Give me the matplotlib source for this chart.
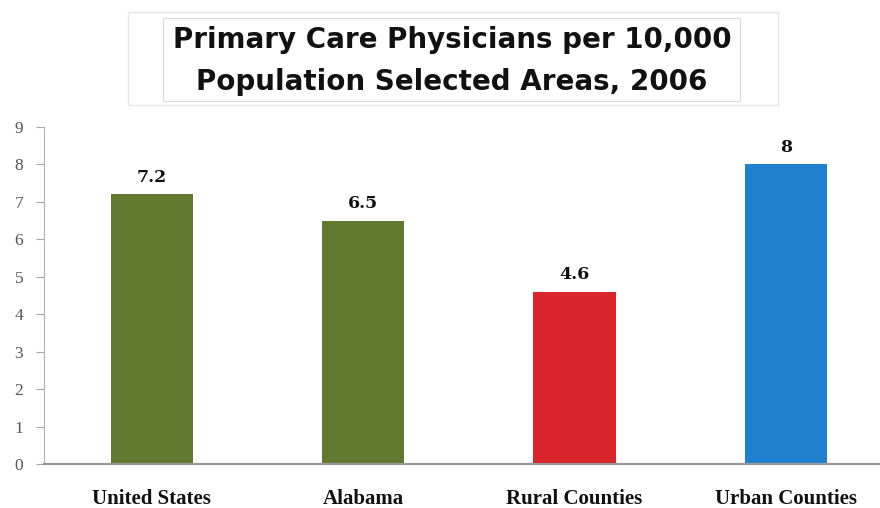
import matplotlib
matplotlib.use("Agg")
import matplotlib.pyplot as plt
from matplotlib.patches import Rectangle

categories = ["United States", "Alabama", "Rural Counties", "Urban Counties"]
values = [7.2, 6.5, 4.6, 8]
value_labels = ["7.2", "6.5", "4.6", "8"]
colors = ["#617a30", "#617a30", "#d9252b", "#1f80d0"]
yticks = [0, 1, 2, 3, 4, 5, 6, 7, 8, 9]
title_lines = ["Primary Care Physicians per 10,000", "Population Selected Areas, 2006"]

W, H = 880, 508
fig = plt.figure(figsize=(W / 100, H / 100), dpi=100)
fig.patch.set_facecolor("white")

# title boxes
fig.patches.append(Rectangle((128 / W, 1 - 105 / H), 650 / W, 93 / H, transform=fig.transFigure,
                             fill=False, edgecolor="#e6e6e6", linewidth=1))
fig.patches.append(Rectangle((163 / W, 1 - 101 / H), 577 / W, 83 / H, transform=fig.transFigure,
                             fill=False, edgecolor="#dadada", linewidth=0.8))
fig.text(452 / W, 1 - 48 / H, title_lines[0], ha="center", va="baseline",
         fontsize=20, fontweight="bold", family=["DejaVu Sans"], color="#111111")
fig.text(452 / W, 1 - 90 / H, title_lines[1], ha="center", va="baseline",
         fontsize=20, fontweight="bold", family=["DejaVu Sans"], color="#111111")

ax_left, ax_right = 44, 880
ax_bottom, ax_top = 464, 127
ax = fig.add_axes([ax_left / W, 1 - ax_bottom / H, (ax_right - ax_left) / W, (ax_bottom - ax_top) / H])
x = list(range(len(categories)))
ax.bar(x, values, width=0.39, color=colors)
ax.set_xlim(-0.51, 3.445)
ax.set_ylim(0, 9)
ax.set_yticks(yticks)
ax.set_yticklabels([str(t) for t in yticks], family=["Liberation Serif"], fontsize=12.5, color="#555555")
ax.set_xticks(x)
ax.set_xticklabels(categories, family=["Liberation Serif"], fontsize=15, fontweight="bold", color="#111111")
ax.tick_params(axis="x", length=0, pad=18)
ax.tick_params(axis="y", length=6, color="#aaaaaa", pad=9)
for s in ["top", "right"]:
    ax.spines[s].set_visible(False)
ax.spines["left"].set_color("#b0b0b0")
ax.spines["bottom"].set_color("#999999")
ax.spines["bottom"].set_linewidth(1.6)
for xi, v, lab in zip(x, values, value_labels):
    ax.annotate(lab, (xi, v), xytext=(0, 6), textcoords="offset points", ha="center", va="bottom",
                family=["DejaVu Serif"], fontsize=12.5, fontweight="bold", color="#111111")

fig.savefig("out.png", dpi=100, facecolor="white")
